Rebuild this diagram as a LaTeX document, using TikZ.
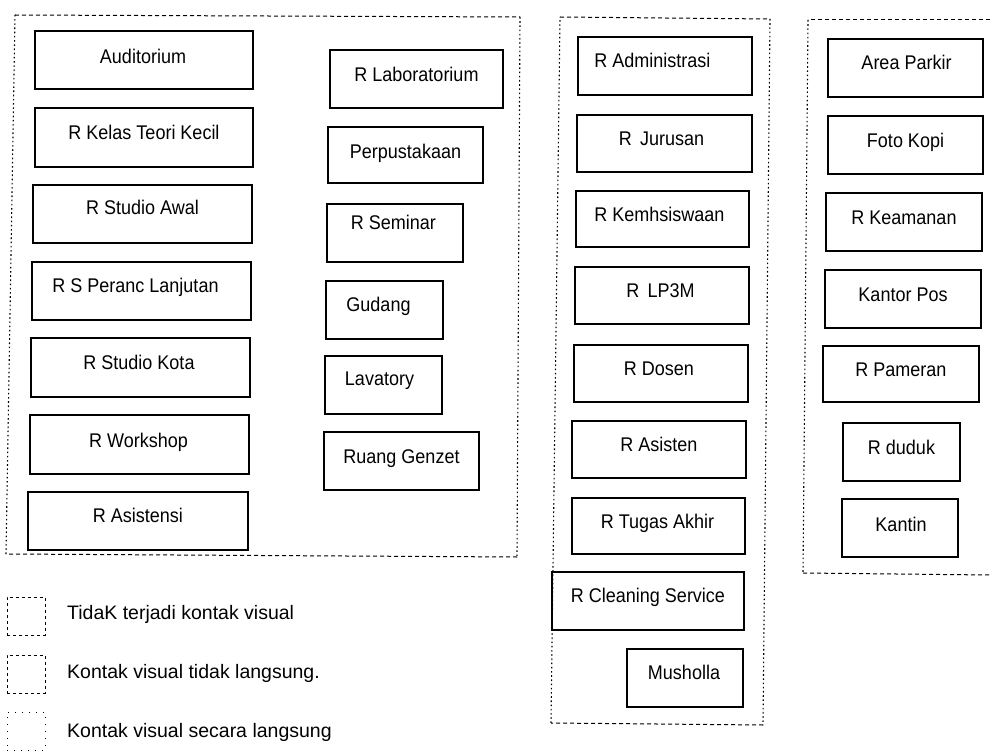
\documentclass[tikz,border=0pt]{standalone}
\usepackage{fontspec}
\usepackage{graphicx}
\setmainfont{Liberation Sans}
\usetikzlibrary{calc}

\newcommand\roomfont{\fontsize{18}{20}\selectfont}
\newcommand\legendfont{\fontsize{19.5}{22}\selectfont}

% \roombox{name}{x1}{y1}{x2}{y2}{text dx}{text rise}{label}
\newcommand\roombox[8]{%
  \node[room, minimum width={(#4-#2)*1pt}, minimum height={(#5-#3)*1pt}]
    (#1) at ({(#2+#4)/2},{(#3+#5)/2})
    {\raisebox{\dimexpr #7pt-7.1pt\relax}[0pt][0pt]{\kern#6pt\relax\scalebox{1}[1.1]{#8}\kern-#6pt\relax}};%
}

\tikzset{
  room/.style={draw, line width=1.3pt, inner sep=0pt, outer sep=0pt, font=\roomfont},
  edgeh/.style={line width=1pt, dash pattern=on 4pt off 3pt},
  edgev/.style={line width=1.1pt, dash pattern=on 1.6pt off 2.6pt},
  legdash/.style={draw, line width=1pt, dash pattern=on 3pt off 3pt,
    minimum width=38pt, minimum height=38pt, inner sep=0pt},
  legdot/.style={draw, line width=0.8pt, dash pattern=on 1pt off 6pt,
    minimum width=38pt, minimum height=38pt, inner sep=0pt},
  legtext/.style={anchor=west, font=\legendfont, inner sep=0pt},
}

\begin{document}
\begin{tikzpicture}[x=1pt, y=-1pt]
\useasboundingbox (0,0) rectangle (990,751);

% ---- zone outlines ----
\coordinate (a1) at (15,15);  \coordinate (a2) at (520,17);
\coordinate (a3) at (517,557); \coordinate (a4) at (6,554);
\draw[edgeh] (a1) -- (a2);
\draw[edgev] (a2) -- (a3);
\draw[edgeh] (a3) -- (a4);
\draw[edgev] (a4) -- (a1);

\coordinate (b1) at (560,17);  \coordinate (b2) at (770,19);
\coordinate (b3) at (763,725); \coordinate (b4) at (551,723);
\draw[edgeh] (b1) -- (b2);
\draw[edgev] (b2) -- (b3);
\draw[edgeh] (b3) -- (b4);
\draw[edgev] (b4) -- (b1);

\coordinate (c1) at (808,20);  \coordinate (c0) at (990,20);
\coordinate (c4) at (803,573); \coordinate (c5) at (990,575);
\draw[edgeh] (c0) -- (c1);
\draw[edgev] (c1) -- (c4);
\draw[edgeh] (c4) -- (c5);

% ---- left zone, first column ----
\roombox{audit}{35}{31}{253}{89}{-1}{4}{Auditorium}
\roombox{kelas}{35}{108}{253}{167}{0}{5}{R Kelas Teori Kecil}
\roombox{awal}{33}{185}{252}{243}{0}{6.5}{R Studio Awal}
\roombox{peranc}{32}{262}{251}{320}{-6}{5.5}{R S Peranc Lanjutan}
\roombox{kota}{31}{338}{250}{397}{-1.5}{5}{R Studio Kota}
\roombox{workshop}{30}{415}{249}{474}{-1}{4.5}{R Workshop}
\roombox{asistensi}{28}{492}{248}{550}{0}{5.5}{R Asistensi}

% ---- left zone, second column ----
\roombox{lab}{330}{50}{503}{108}{0}{4.5}{R Laboratorium}
\roombox{pustaka}{328}{127}{483}{183}{0}{3.5}{Perpustakaan}
\roombox{seminar}{327}{204}{463}{262}{-1.5}{10.5}{R Seminar}
\roombox{gudang}{326}{281}{443}{339}{-6}{5.5}{Gudang}
\roombox{lavatory}{325}{356}{442}{414}{-4}{6.5}{Lavatory}
\roombox{genzet}{324}{432}{479}{490}{0}{4.5}{Ruang Genzet}

% ---- middle zone ----
\roombox{admin}{578}{37}{752}{95}{-12.5}{6}{R Administrasi}
\roombox{jurusan}{577}{115}{752}{172}{-3}{5}{R\hspace{0.45em}Jurusan}
\roombox{kemhs}{576}{191}{749}{247}{-3}{5}{R Kemhsiswaan}
\roombox{lp3m}{575}{267}{749}{324}{-1.5}{5}{R\hspace{0.45em}LP3M}
\roombox{dosen}{574}{345}{748}{402}{-2}{5}{R Dosen}
\roombox{asisten}{572}{421}{746}{478}{0}{5}{R Asisten}
\roombox{tugas}{572}{498}{745}{554}{-1}{5}{R Tugas Akhir}
\roombox{cleaning}{552}{572}{744}{630}{0}{5.5}{R Cleaning Service}
\roombox{musholla}{627}{649}{743}{707}{-1}{5.5}{Musholla}

% ---- right zone ----
\roombox{parkir}{828}{39}{983}{97}{1}{5.5}{Area Parkir}
\roombox{fotokopi}{828}{116}{983}{174}{0}{5}{Foto Kopi}
\roombox{keamanan}{826}{193}{982}{251}{0}{5}{R Keamanan}
\roombox{pos}{825}{270}{981}{328}{0}{5}{Kantor Pos}
\roombox{pameran}{823}{346}{979}{402}{0}{5}{R Pameran}
\roombox{duduk}{843}{423}{960}{481}{0}{4.5}{R duduk}
\roombox{kantin}{842}{499}{958}{557}{1}{4}{Kantin}

% ---- legend ----
\node[legdash] (lg1) at (26,616) {};
\node[legdash] (lg2) at (26,674) {};
\node[legdot]  (lg3) at (26,731) {};
\node[legtext] (lt1) at (67,614) {TidaK terjadi kontak visual};
\node[legtext] (lt2) at (67,673) {Kontak visual tidak langsung.};
\node[legtext] (lt3) at (67,732) {Kontak visual secara langsung};
\end{tikzpicture}
\end{document}
